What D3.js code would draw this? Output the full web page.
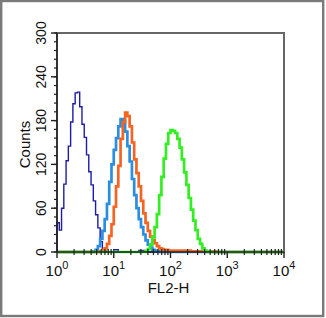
<!DOCTYPE html>
<html>
<head>
<meta charset="utf-8">
<script src="https://cdn.jsdelivr.net/npm/d3@7"></script>
<style>
  body { margin: 0; background: #fff; }
  svg { display: block; font-family: "Liberation Sans", Arial, sans-serif; }
</style>
</head>
<body>
<div id="chart"></div>
<script>
// histogram channels, width in log10 units
const binWidth = 0.04;

// each series: first channel (log10 of FL2-H) and counts per channel
const navyStart = 0.0;
const navyCounts = [40, 30, 60, 93, 125, 145, 178, 203, 218, 219, 199, 175, 157, 133, 110, 92, 70, 51, 33, 14, 3, 1, 0, 0, 0, 3, 3, 0, 0, 0, 0, 0, 0, 0, 0, 0, 2, 2, 2, 0];

const lightBlueStart = 0.64;
const lightBlueCounts = [1, 3, 8, 18, 29, 45, 66, 96, 120, 140, 156, 172, 182, 180, 165, 145, 124, 100, 78, 60, 45, 34, 24, 16, 10, 6, 3, 2, 1, 0];

const orangeStart = 0.76;
const orangeCounts = [1, 3, 5, 11, 22, 38, 62, 90, 118, 155, 178, 191, 186, 172, 150, 127, 108, 90, 70, 53, 40, 29, 21, 16, 12, 8, 5, 4, 3, 3, 2, 2, 2, 2, 2, 2, 2, 2, 2, 2, 1, 1, 1, 1, 1, 1, 1, 1, 1, 1, 1, 0];

const greenStart = 1.56;
const greenCounts = [1, 4, 10, 20, 34, 52, 78, 103, 128, 148, 163, 167, 166, 163, 155, 143, 127, 109, 92, 74, 58, 43, 30, 18, 11, 5, 2, 1, 0];

const yTicks = [0, 60, 120, 180, 240, 300];
const xDecades = [0, 1, 2, 3, 4];

const W = 326, H = 318;
const margin = {top: 33, right: 42, bottom: 66, left: 57};
const width = W - margin.left - margin.right;
const height = H - margin.top - margin.bottom;

const svg = d3.select("#chart")
    .append("svg")
    .attr("width", W)
    .attr("height", H);

// outer gray frame
svg.append("rect")
    .attr("x", 1.2).attr("y", 1)
    .attr("width", 322).attr("height", 315)
    .attr("fill", "none")
    .attr("stroke", "#7a7a7a")
    .attr("stroke-width", 2.4);

const g = svg.append("g")
    .attr("transform", `translate(${margin.left}, ${margin.top})`);

const x = d3.scaleLinear().domain([0, 4]).range([0, width]);
const y = d3.scaleLinear().domain([0, 300]).range([height, 0]);

// plot frame
g.append("rect")
    .attr("width", width).attr("height", height)
    .attr("fill", "none")
    .attr("stroke", "#666")
    .attr("stroke-width", 2);

// histograms
function toPoints(start, counts) {
    const pts = [[0, 0]];
    counts.forEach(function (c, i) {
        pts.push([start + i * binWidth, c]);
    });
    pts.push([start + counts.length * binWidth, 0]);
    pts.push([4, 0]);
    return pts;
}

const line = d3.line()
    .x(function (d) { return x(d[0]); })
    .y(function (d) { return y(d[1]); })
    .curve(d3.curveStepAfter);

const series = [
    {start: navyStart, counts: navyCounts, color: "#1c1ca8", w: 1.4},
    {start: lightBlueStart, counts: lightBlueCounts, color: "#2a8fe0", w: 2.7},
    {start: orangeStart, counts: orangeCounts, color: "#f26522", w: 2.7},
    {start: greenStart, counts: greenCounts, color: "#33ee22", w: 2.7}
];

series.forEach(function (s) {
    g.append("path")
        .datum(toPoints(s.start, s.counts))
        .attr("d", line)
        .attr("fill", "none")
        .attr("stroke", s.color)
        .attr("stroke-width", s.w)
        .attr("stroke-linejoin", "miter");
});

// y axis
const yMinor = d3.range(0, 301, 12);
const yAxis = g.append("g");
yAxis.append("line")
    .attr("x1", 0).attr("x2", 0).attr("y1", 0).attr("y2", height)
    .attr("stroke", "#222").attr("stroke-width", 1.5);
yAxis.selectAll(".ymin").data(yMinor).enter().append("line")
    .attr("x1", -3).attr("x2", 0)
    .attr("y1", function (d) { return y(d); })
    .attr("y2", function (d) { return y(d); })
    .attr("stroke", "#222").attr("stroke-width", 1.2);
yAxis.selectAll(".ymaj").data(yTicks).enter().append("line")
    .attr("x1", -6).attr("x2", 0)
    .attr("y1", function (d) { return y(d); })
    .attr("y2", function (d) { return y(d); })
    .attr("stroke", "#222").attr("stroke-width", 1.4);
yAxis.selectAll(".ylab").data(yTicks).enter().append("text")
    .attr("transform", function (d) { return `translate(-11, ${y(d)}) rotate(-90)`; })
    .attr("text-anchor", "middle")
    .style("font-size", "14px")
    .style("fill", "#111")
    .text(function (d) { return d; });

// x axis
const xMinor = [];
xDecades.slice(0, 4).forEach(function (dec) {
    for (let m = 2; m <= 9; m++) xMinor.push(dec + Math.log10(m));
});
const xAxis = g.append("g").attr("transform", `translate(0, ${height})`);
xAxis.append("line")
    .attr("x1", 0).attr("x2", width)
    .attr("stroke", "#222").attr("stroke-width", 1.5);
xAxis.selectAll(".xmin").data(xMinor).enter().append("line")
    .attr("x1", function (d) { return x(d); })
    .attr("x2", function (d) { return x(d); })
    .attr("y1", -3).attr("y2", 3)
    .attr("stroke", "#222").attr("stroke-width", 1.2);
xAxis.selectAll(".xmaj").data(xDecades).enter().append("line")
    .attr("x1", function (d) { return x(d); })
    .attr("x2", function (d) { return x(d); })
    .attr("y1", 0).attr("y2", 6)
    .attr("stroke", "#222").attr("stroke-width", 1.4);
const xlab = xAxis.selectAll(".xlab").data(xDecades).enter().append("text")
    .attr("x", function (d) { return x(d); })
    .attr("y", 24)
    .attr("text-anchor", "middle")
    .style("font-size", "15px")
    .style("fill", "#111");
xlab.append("tspan").text("10");
xlab.append("tspan")
    .attr("dy", -7)
    .style("font-size", "11px")
    .text(function (d) { return d; });

// axis titles
g.append("text")
    .attr("x", width / 2 - 2)
    .attr("y", height + 41)
    .attr("text-anchor", "middle")
    .style("font-size", "15px")
    .style("fill", "#111")
    .text("FL2-H");

g.append("text")
    .attr("transform", `translate(-27, ${height / 2 + 2}) rotate(-90)`)
    .attr("text-anchor", "middle")
    .style("font-size", "15px")
    .style("fill", "#111")
    .text("Counts");
</script>
</body>
</html>
